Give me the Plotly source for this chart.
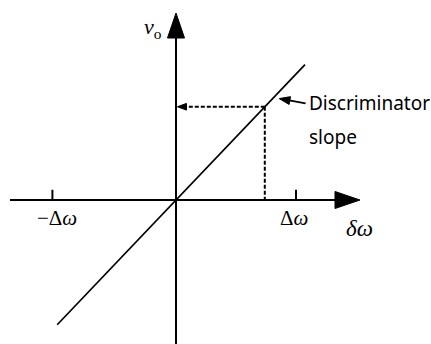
import plotly.graph_objects as go

# Discriminator characteristic: output voltage vs. frequency deviation
gain = 1.05                 # discriminator slope (v_o per unit of δω)
line_x = [-0.99, 1.075]     # extent of the characteristic line
op_x = 0.74                 # operating point on the slope
tick_x = [-1.03, 1.0]       # ±Δω tick positions
tick_text = ["−Δω", "Δω"]

x_axis_span = [-1.383, 1.533]   # horizontal axis: left end, arrow tip
y_axis_span = [-1.2, 1.558]     # vertical axis: bottom end, arrow tip

W, H = 431, 344
x_range = [-176 / 120, (W - 176) / 120]
y_range = [(200 - H) / 120, 200 / 120]

head_len, head_half = 0.208, 0.071
ink = "black"
serif = "Liberation Serif"
sans = "Noto Sans"

fig = go.Figure()

# axis lines
fig.add_trace(go.Scatter(x=[x_axis_span[0], x_axis_span[1] - head_len], y=[0, 0],
                         mode="lines", line=dict(color=ink, width=2), hoverinfo="skip"))
fig.add_trace(go.Scatter(x=[0, 0], y=[y_axis_span[0], y_axis_span[1] - head_len],
                         mode="lines", line=dict(color=ink, width=2), hoverinfo="skip"))

# filled arrowheads at the axis ends
xt = x_axis_span[1]
fig.add_trace(go.Scatter(x=[xt - head_len, xt, xt - head_len, xt - head_len],
                         y=[head_half, 0, -head_half, head_half],
                         mode="lines", fill="toself", fillcolor=ink,
                         line=dict(color=ink, width=1), hoverinfo="skip"))
yt = y_axis_span[1]
fig.add_trace(go.Scatter(x=[-head_half, 0, head_half, -head_half],
                         y=[yt - head_len, yt, yt - head_len, yt - head_len],
                         mode="lines", fill="toself", fillcolor=ink,
                         line=dict(color=ink, width=1), hoverinfo="skip"))

# tick marks at ±Δω
for tx in tick_x:
    fig.add_trace(go.Scatter(x=[tx, tx], y=[0, 0.085], mode="lines",
                             line=dict(color=ink, width=2), hoverinfo="skip"))

# the discriminator characteristic
fig.add_trace(go.Scatter(x=line_x, y=[gain * v for v in line_x], mode="lines",
                         line=dict(color=ink, width=1.7), hoverinfo="skip"))

# dashed projections from the operating point
op_y = gain * op_x
dash = "4px,2px"
fig.add_trace(go.Scatter(x=[op_x, op_x], y=[op_y, 0], mode="lines",
                         line=dict(color=ink, width=2, dash=dash), hoverinfo="skip"))
fig.add_trace(go.Scatter(x=[op_x, 0.05], y=[op_y, op_y], mode="lines",
                         line=dict(color=ink, width=2, dash=dash), hoverinfo="skip"))

# small filled arrowheads (projection onto v_o axis, label pointer)
def head(tip_x, tip_y, dx, dy, length=0.075, half=0.028):
    # triangle with its tip at (tip_x, tip_y), pointing along (dx, dy)
    n = (dx * dx + dy * dy) ** 0.5
    ux, uy = dx / n, dy / n
    bx, by = tip_x - ux * length, tip_y - uy * length
    px, py = -uy * half, ux * half
    return go.Scatter(x=[tip_x, bx + px, bx - px, tip_x], y=[tip_y, by + py, by - py, tip_y],
                      mode="lines", fill="toself", fillcolor=ink,
                      line=dict(color=ink, width=1), hoverinfo="skip")

fig.add_trace(head(0.012, op_y, -1, 0))
ptr_tip, ptr_tail = (0.86, 0.845), (1.08, 0.805)
fig.add_trace(go.Scatter(x=[ptr_tail[0], ptr_tip[0] + 0.05], y=[ptr_tail[1], ptr_tip[1] - 0.009],
                         mode="lines", line=dict(color=ink, width=1.7), hoverinfo="skip"))
fig.add_trace(head(ptr_tip[0], ptr_tip[1], ptr_tip[0] - ptr_tail[0], ptr_tip[1] - ptr_tail[1],
                   length=0.09, half=0.033))

annotations = [
    dict(x=1.09, y=0.81, xref="x", yref="y", text="Discriminator", showarrow=False,
         xanchor="left", yanchor="middle", font=dict(family=sans, size=19, color=ink)),
    dict(x=1.09, y=0.525, xref="x", yref="y", text="slope", showarrow=False,
         xanchor="left", yanchor="middle", font=dict(family=sans, size=19, color=ink)),
    dict(x=1.533, y=-0.24, xref="x", yref="y", text="<i>δω</i>", showarrow=False,
         font=dict(family=serif, size=23, color=ink)),
    dict(x=-0.19, y=1.43, xref="x", yref="y", text="<i>v</i><sub>o</sub>", showarrow=False,
         font=dict(family=serif, size=22, color=ink)),
]
for tx, tt in zip(tick_x, tick_text):
    annotations.append(dict(x=tx + 0.04 if tx < 0 else tx - 0.02, y=-0.15, xref="x", yref="y",
                            text=tt.replace("ω", "<i>ω</i>"), showarrow=False,
                            font=dict(family=serif, size=21, color=ink)))

fig.update_layout(
    width=W, height=H, margin=dict(l=0, r=0, t=0, b=0),
    paper_bgcolor="white", plot_bgcolor="white", showlegend=False,
    xaxis=dict(range=x_range, visible=False, fixedrange=True),
    yaxis=dict(range=y_range, visible=False, fixedrange=True),
    annotations=annotations,
)

fig.write_html("out.html")
